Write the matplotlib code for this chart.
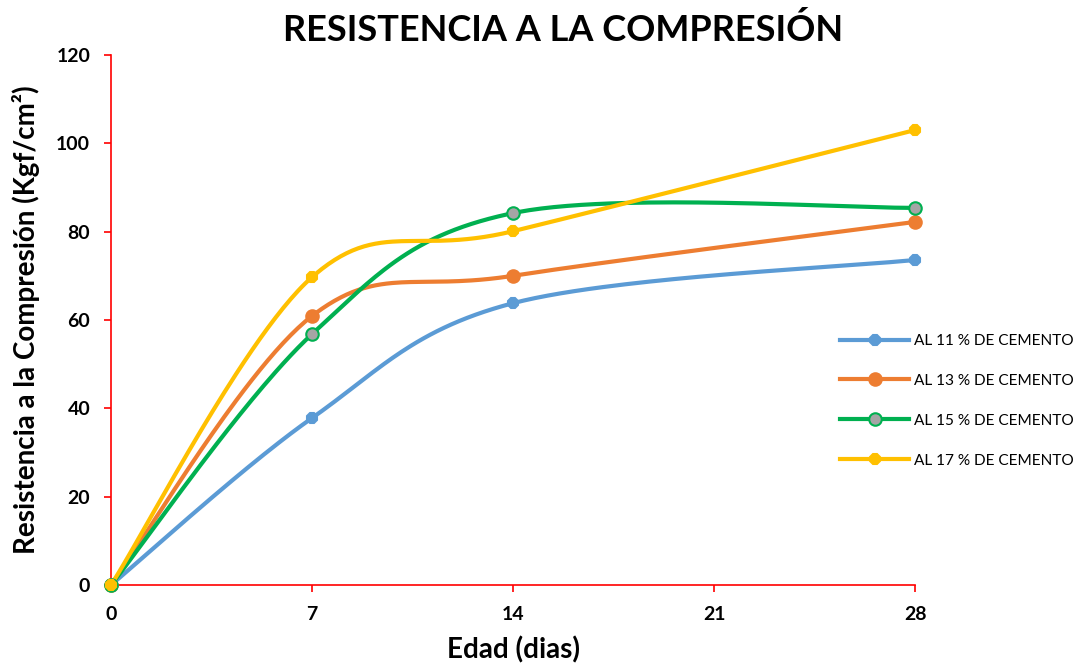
import numpy as np
import matplotlib
matplotlib.use('Agg')
import matplotlib.pyplot as plt

plt.rcParams['font.family'] = ['Lato', 'DejaVu Sans']

edad = [0, 7, 14, 28]
al_11 = [0, 37.8, 63.8, 73.6]
al_13 = [0, 60.9, 70.0, 82.2]
al_15 = [0, 56.8, 84.2, 85.4]
al_17 = [0, 69.7, 80.1, 103.0]
series_labels = ['AL 11 % DE CEMENTO', 'AL 13 % DE CEMENTO',
                 'AL 15 % DE CEMENTO', 'AL 17 % DE CEMENTO']


def smooth(x, y, n=60):
    # cubic bezier through the points, catmull-rom style control points
    p = np.column_stack([x, y]).astype(float)
    pts = np.vstack([p[0], p, p[-1]])
    out = []
    t = np.linspace(0, 1, n)[:, None]
    for i in range(1, len(pts) - 2):
        p0, p1, p2, p3 = pts[i - 1], pts[i], pts[i + 1], pts[i + 2]
        c1 = p1 + (p2 - p0) / 6
        c2 = p2 - (p3 - p1) / 6
        seg = ((1 - t) ** 3) * p1 + 3 * ((1 - t) ** 2) * t * c1 \
            + 3 * (1 - t) * t ** 2 * c2 + t ** 3 * p2
        out.append(seg)
    c = np.vstack(out)
    return c[:, 0], c[:, 1]


fig = plt.figure(figsize=(10.84, 6.68), dpi=100)
ax = fig.add_axes([0.1024, 0.1243, 0.7417, 0.7934])

styles = [
    dict(color='#5B9BD5', mfc='#5B9BD5', mec='#5B9BD5', marker='8', ms=8),
    dict(color='#ED7D31', mfc='#ED7D31', mec='#ED7D31', marker='o', ms=9),
    dict(color='#00B050', mfc='#A5A5A5', mec='#00B050', marker='o', ms=9),
    dict(color='#FFC000', mfc='#FFC000', mec='#FFC000', marker='8', ms=8),
]
data = [al_11, al_13, al_15, al_17]
for vals, st, lab in zip(data, styles, series_labels):
    sx, sy = smooth(edad, vals)
    ax.plot(sx, sy, color=st['color'], lw=3, solid_capstyle='round', zorder=3)
    ax.plot(edad, vals, ls='none', marker=st['marker'], ms=st['ms'],
            mfc=st['mfc'], mec=st['mec'], mew=1.5, zorder=4, clip_on=False)
    ax.plot([], [], color=st['color'], lw=3, marker=st['marker'], ms=st['ms'],
            mfc=st['mfc'], mec=st['mec'], mew=1.5, label=lab)

ax.set_xlim(0, 28)
ax.set_ylim(0, 120)
ax.set_xticks([0, 7, 14, 21, 28])
ax.set_yticks(range(0, 121, 20))
ax.spines['top'].set_visible(False)
ax.spines['right'].set_visible(False)
for s in ['left', 'bottom']:
    ax.spines[s].set_color('red')
    ax.spines[s].set_linewidth(1.2)
ax.tick_params(colors='red', length=5, width=1.2, labelcolor='black',
               labelsize=14, pad=10)
for lbl in ax.get_xticklabels() + ax.get_yticklabels():
    lbl.set_fontweight('bold')

ax.set_xlabel('Edad (dias)', fontsize=20, fontweight='bold', labelpad=10)
ax.set_ylabel('Resistencia a la Compresión (Kgf/cm²)', fontsize=20,
              fontweight='bold', labelpad=12)
fig.suptitle('RESISTENCIA A LA COMPRESIÓN', fontsize=26, fontweight='bold',
             x=0.519, y=0.98)

fig.legend(loc='center left', bbox_to_anchor=(0.762, 0.40), frameon=False,
           fontsize=11.1, handlelength=4.5, labelspacing=1.68,
           handletextpad=0.33)

fig.savefig('out.png', dpi=100)
